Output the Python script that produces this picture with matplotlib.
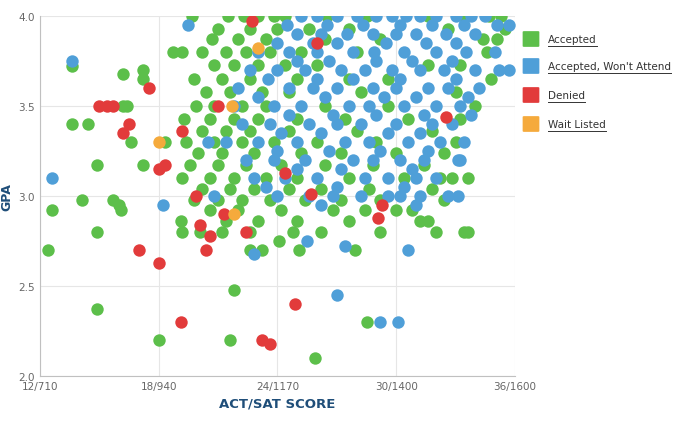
import matplotlib
matplotlib.use("Agg")
import matplotlib.pyplot as plt
from matplotlib.patches import FancyBboxPatch
from matplotlib.lines import Line2D

xticks = [12, 18, 24, 30, 36]
xticklabels = ["12/710", "18/940", "24/1170", "30/1400", "36/1600"]
yticks = [2.0, 2.5, 3.0, 3.5, 4.0]
labels = ["Accepted", "Accepted, Won't Attend", "Denied", "Wait Listed"]
colors = ["#5cbf4a", "#4f9fd8", "#e23b3b", "#f5aa3c"]

accepted_rows = {
    4.0: [21.5, 22.3, 23, 23.8, 24.4, 26.5, 28.5, 31.6, 33.4, 34.7, 35.3],
    3.93: [21, 22.6, 24, 25.6, 27.6, 32.6, 35.5],
    3.87: [20.7, 22, 23.4, 26.4, 29.2, 34.4, 35.1],
    3.8: [19.2, 20.2, 21.4, 22.4, 23.6, 25.2, 28, 34.6, 18.7],
    3.73: [20.8, 21.8, 23, 24.4, 26, 31.6, 33.2],
    3.65: [19.8, 21.2, 22.6, 25, 27.6, 29.6, 34.8],
    3.58: [20.4, 21.6, 23.2, 24.6, 28.2, 33],
    3.5: [19.9, 20.8, 22.2, 23.4, 26.4, 29.6, 34, 16.2, 16.4],
    3.43: [19.3, 20.6, 21.8, 23, 25, 27.4, 30.6, 33.2],
    3.36: [20.2, 21.4, 22.6, 24.6, 28, 31.8],
    3.3: [19.4, 20.8, 22.2, 23.8, 26, 29, 33, 16.6, 18.3],
    3.24: [20, 21.2, 22.8, 25.2, 27.2, 30, 32.4],
    3.17: [19.6, 21, 22.4, 24.2, 26.4, 28.8, 31.4, 14.9, 17.2],
    3.1: [19.2, 20.6, 21.8, 23.4, 25, 27.6, 30.4, 32.8, 33.6, 32.2],
    3.04: [20.2, 21.6, 22.8, 24.6, 26.2, 28.6, 31.8],
    2.98: [19.8, 21, 22.2, 23.6, 25.4, 27.2, 29.2, 32.4, 14.1, 15.7],
    2.92: [20.6, 22, 24.2, 26.8, 28.4, 30, 12.6, 16.1, 30.8],
    2.86: [21.4, 23, 25, 27.6, 31.6, 31.2, 19.1],
    2.8: [20.1, 21.2, 22.6, 24.8, 26.2, 29.2, 32, 14.9, 19.2, 33.4],
    2.75: [24.1],
    2.7: [12.4, 22.6, 23.2, 25.1, 27.9],
}
accepted_extra = [(13.6, 3.40), (14.4, 3.40), (13.6, 3.72), (16.0, 2.95),
                  (16.2, 3.68), (17.2, 3.70), (17.2, 3.65), (14.9, 2.37),
                  (18.0, 2.20), (21.6, 2.20), (21.8, 2.48), (25.9, 2.10),
                  (28.5, 2.30), (19.7, 4.0), (33.6, 2.80)]

won_rows = {
    4.0: [25.2, 26, 27, 28, 29, 29.8, 30.5, 31.2, 32, 33, 33.8, 34.5],
    3.95: [24.5, 26.5, 28.3, 30.2, 31.8, 33.4, 19.5, 35.1, 35.7],
    3.9: [25, 26.2, 27.5, 28.8, 30, 31, 32.5, 34],
    3.85: [24, 25.8, 27, 29.5, 31.5, 33],
    3.8: [23, 24.6, 26, 27.8, 28.9, 30.4, 32, 33.5, 35],
    3.75: [25, 26.6, 29, 30.8, 32.8, 13.6],
    3.7: [22.6, 24, 25.4, 27.2, 28.4, 29.8, 31.2, 32.4, 34, 35.2, 35.7],
    3.65: [23.5, 26, 27.8, 30.2, 33],
    3.6: [22, 24.6, 25.8, 27, 28.8, 30, 31.6, 32.6, 34.2],
    3.55: [23, 26.4, 29.4, 31, 33.6],
    3.5: [21.8, 23.8, 25.2, 27.6, 28.6, 30.4, 32, 33.2],
    3.45: [24.6, 26.8, 29, 31.4, 33.8],
    3.4: [22.2, 23.6, 25.6, 27, 28.2, 30, 31.8, 32.8],
    3.35: [24.2, 26.2, 29.6, 31.2],
    3.3: [21.4, 23, 25, 27.4, 28.6, 30.6, 32.2, 33.4, 20.5],
    3.25: [24, 26.6, 29.2, 31.6],
    3.2: [22.4, 23.8, 25.4, 27.8, 28.8, 30.2, 31.4, 33.2, 33.1],
    3.15: [25, 27.2, 30.8],
    3.1: [22.8, 24.4, 26, 28.4, 29.6, 31, 32, 12.6],
    3.05: [23.4, 27, 30.4],
    3.0: [20.8, 24, 25.6, 26.8, 28.2, 29.6, 30.2, 31.2, 32.6, 33.1],
    2.95: [26.2, 31, 18.2],
    2.75: [25.5],
    2.72: [27.4],
    2.7: [30.6],
    2.68: [22.8],
    2.45: [27.0],
    2.3: [29.2, 30.1],
}

denied_pts = [(15.0, 3.50), (15.4, 3.50), (15.7, 3.50), (16.5, 3.40), (16.2, 3.35),
              (17.5, 3.60), (17.0, 2.70), (18.0, 2.63), (18.0, 3.15), (18.3, 3.17),
              (19.2, 3.36), (19.1, 2.30), (19.9, 3.0), (20.1, 2.84), (20.4, 2.70),
              (20.6, 2.78), (21.0, 3.50), (21.3, 2.90), (22.4, 2.80), (23.2, 2.20),
              (23.6, 2.18), (24.9, 2.40), (24.4, 3.13), (25.7, 3.01), (29.1, 2.88),
              (29.3, 2.95), (32.5, 3.44), (26.0, 3.85), (22.7, 3.97)]
wait_pts = [(18.0, 3.30), (21.8, 2.90), (21.7, 3.50), (23.0, 3.82)]


def flat(rows):
    xs, ys = [], []
    for g, acts in rows.items():
        for a in acts:
            xs.append(a)
            ys.append(g)
    return xs, ys

ax_x, ax_y = flat(accepted_rows)
ax_x += [p[0] for p in accepted_extra]
ax_y += [p[1] for p in accepted_extra]
wx, wy = flat(won_rows)

fig = plt.figure(figsize=(6.8, 4.31), dpi=100)
ax = fig.add_axes([40/680, 54/431, 475/680, 360/431])
s = 80
ax.scatter(ax_x, ax_y, s=s, c=colors[0], zorder=2, linewidths=0)
ax.scatter(wx, wy, s=s, c=colors[1], zorder=3, linewidths=0)
ax.scatter([p[0] for p in denied_pts], [p[1] for p in denied_pts], s=s, c=colors[2], zorder=4, linewidths=0)
ax.scatter([p[0] for p in wait_pts], [p[1] for p in wait_pts], s=s, c=colors[3], zorder=4, linewidths=0)

ax.set_xlim(12, 36)
ax.set_ylim(2.0, 4.0)
ax.set_xticks(xticks)
ax.set_xticklabels(xticklabels)
ax.set_yticks(yticks)
ax.set_yticklabels([f"{v:.1f}" for v in yticks])
ax.grid(True, color="#e6e6e6", linewidth=0.8, zorder=0)
ax.set_axisbelow(True)
for sp in ["top", "right"]:
    ax.spines[sp].set_visible(False)
ax.spines["left"].set_color("#c0c0c0")
ax.spines["bottom"].set_color("#c0c0c0")
ax.tick_params(colors="#666666", labelsize=7.5, length=0)
ax.set_xlabel("ACT/SAT SCORE", color="#1f4e79", fontweight="bold", fontsize=9.5)
ax.set_ylabel("GPA", color="#1f4e79", fontweight="bold", fontsize=9, labelpad=4)

ycent = [40, 67, 96, 125]
for lab, col, yc in zip(labels, colors, ycent):
    y = 1 - yc/431
    fig.patches.append(FancyBboxPatch((524/680, y - 7/431), 14/680, 14/431,
                                      boxstyle="round,pad=0.002", transform=fig.transFigure,
                                      facecolor=col, edgecolor="none"))
    t = fig.text(548/680, y, lab, fontsize=7.5, color="#333333", va="center")
    fig.canvas.draw()
    bb = t.get_window_extent()
    fig.lines.append(Line2D([bb.x0/680, bb.x1/680], [y - 7/431, y - 7/431],
                            transform=fig.transFigure, color="#333333", linewidth=0.7))

fig.savefig("out.png", dpi=100)
